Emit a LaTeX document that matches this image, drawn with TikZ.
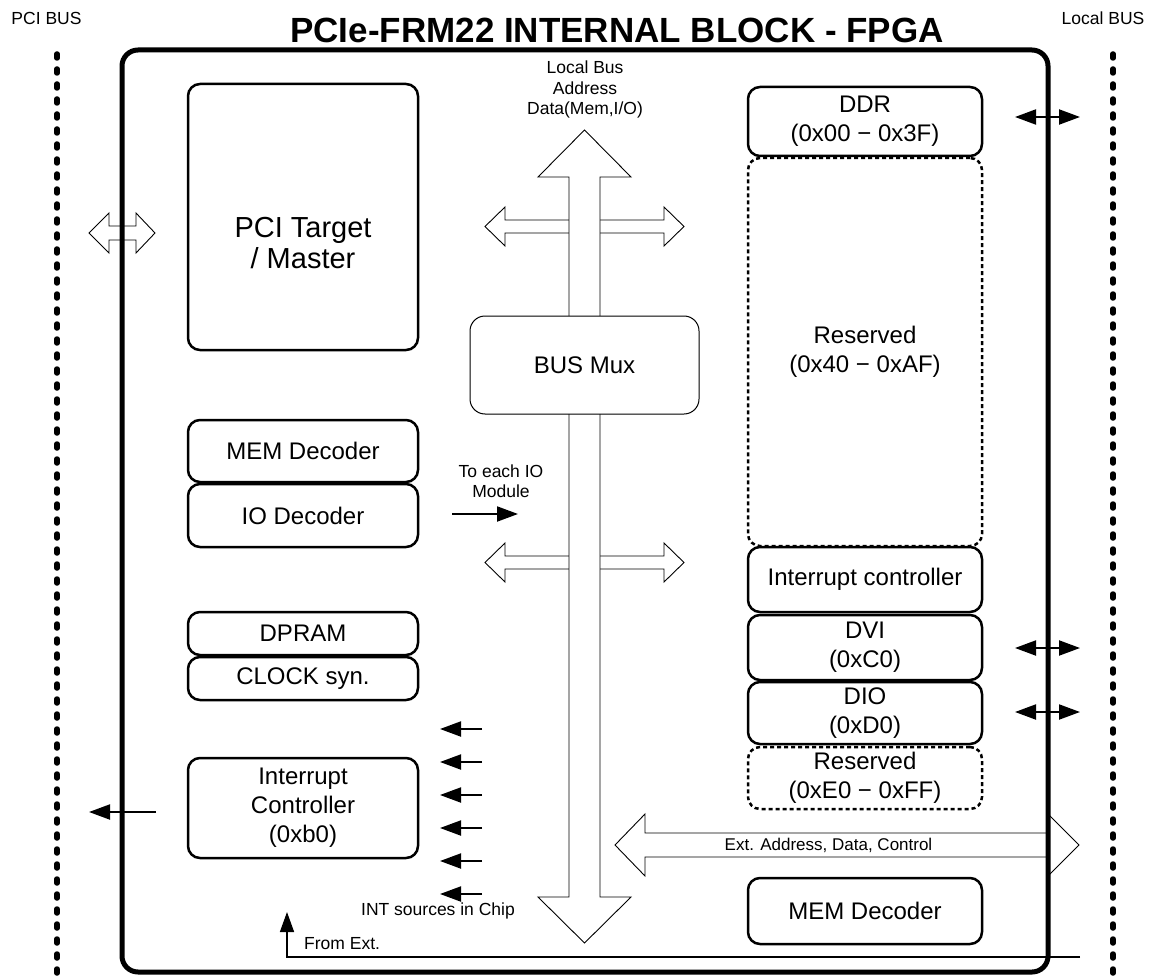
\documentclass[tikz,border=0pt]{standalone}
\usepackage{fontspec}
\setmainfont{Liberation Sans}
\usetikzlibrary{arrows.meta}
\newcommand\myfs[2]{\fontsize{#1}{#2}\selectfont}
\tikzset{
 blk/.style={draw, line width=2.5pt, rounded corners=12pt, fill=white, align=center, inner sep=0pt, minimum width=230pt, font=\myfs{24}{29}},
 rblk/.style={blk, minimum width=234pt},
 dashedblk/.style={dash pattern=on 4pt off 3pt},
 fat/.style={draw, line width=0.9pt, fill=white, line join=miter},
 dotline/.style={line width=5.5pt, line cap=round, dash pattern=on 4pt off 11pt},
 sarr/.style={line width=2pt, -{Triangle[length=21pt,width=15pt]}},
 darr/.style={line width=2pt, {Triangle[length=21pt,width=15pt]}-{Triangle[length=21pt,width=15pt]}},
 lbl/.style={font=\myfs{17.5}{20.5}, align=center, inner sep=0pt},
}
\begin{document}
\begin{tikzpicture}[x=1pt,y=-1pt]
\useasboundingbox (0,0) rectangle (1158,976);
% bus lines
\coordinate (pcitop) at (57,54); \coordinate (pcibot) at (57,976);
\coordinate (lbtop) at (1113,54); \coordinate (lbbot) at (1113,976);
\draw[dotline] (pcitop) -- (pcibot);
\draw[dotline] (lbtop) -- (lbbot);
% horizontal fat double arrows
\draw[fat] (485,226.5) -- (505,207) -- (505,220) -- (664,220) -- (664,207) -- (684,226.5) -- (664,246) -- (664,233) -- (505,233) -- (505,246) -- cycle;
\draw[fat] (485,562.5) -- (505,543) -- (505,556) -- (664,556) -- (664,543) -- (684,562.5) -- (664,582) -- (664,569) -- (505,569) -- (505,582) -- cycle;
% vertical fat double arrow
\draw[fat] (569,177) -- (538,177) -- (584.5,130) -- (631,177) -- (600,177) -- (600,897) -- (631,897) -- (584.5,943) -- (538,897) -- (569,897) -- cycle;
% PCI fat arrow
\draw[fat] (89,233) -- (109,213) -- (109,226) -- (136,226) -- (136,213) -- (155,233) -- (136,253) -- (136,240) -- (109,240) -- (109,253) -- cycle;
% Ext fat arrow
\draw[fat] (615,845) -- (645,814) -- (645,833) -- (1048,833) -- (1048,814) -- (1079,845) -- (1048,876) -- (1048,857) -- (645,857) -- (645,876) -- cycle;
\node[lbl, font=\myfs{17}{20}] (extlbl) at (828.5,845) {Ext. Address, Data, Control};
% BUS Mux
\node[draw, line width=1pt, rounded corners=15pt, fill=white, minimum width=229pt, minimum height=98pt, inner sep=0pt, font=\myfs{24}{29}] (mux) at (584.5,365) {BUS Mux};
% left boxes
\node[blk, minimum height=266pt] (pci) at (303,217) {};
\node[align=center, inner sep=0pt, font=\myfs{29}{30.5}] (pcitxt) at (303,243) {PCI Target\\/ Master};
\node[blk, minimum height=62pt] (memdec) at (303,451) {MEM Decoder};
\node[blk, minimum height=63pt] (iodec) at (303,515.5) {IO Decoder};
\node[blk, minimum height=43pt] (dpram) at (303,633.5) {DPRAM};
\node[blk, minimum height=43pt] (clk) at (303,678.5) {CLOCK syn.};
\node[blk, minimum height=100pt] (intc) at (303,808) {Interrupt\\Controller\\(0xb0)};
% right boxes
\node[rblk, minimum height=69pt] (ddr) at (865,121.5) {DDR\\(0x00 − 0x3F)};
\node[rblk, dashedblk, minimum height=388pt] (res1) at (865,352) {Reserved\\(0x40 − 0xAF)};
\node[rblk, minimum height=65pt] (intr) at (865,579.5) {Interrupt controller};
\node[rblk, minimum height=65pt] (dvi) at (865,647.5) {DVI\\(0xC0)};
\node[rblk, minimum height=62pt] (dio) at (865,713) {DIO\\(0xD0)};
\node[rblk, dashedblk, minimum height=62pt] (res2) at (865,778) {Reserved\\(0xE0 − 0xFF)};
\node[rblk, minimum height=66pt] (memdec2) at (865,911) {MEM Decoder};
% outer chip border
\node[draw, line width=5pt, rounded corners=16pt, minimum width=926pt, minimum height=922pt, inner sep=0pt] (chip) at (585,511) {};
% small arrows
\foreach \yy [count=\i] in {729,762,795,828,861,894} {
  \coordinate (is\i) at (482,\yy);
  \coordinate (it\i) at (440,\yy);
  \draw[sarr] (is\i) -- (it\i);
}
\coordinate (intsrc) at (156,812);
\coordinate (intout) at (89,812);
\draw[sarr] (intsrc) -- (intout);
\coordinate (ioa) at (452,514); \coordinate (iob) at (518,514);
\draw[sarr] (ioa) -- (iob);
\coordinate (ddra) at (1015,117); \coordinate (ddrb) at (1080,117);
\draw[darr] (ddra) -- (ddrb);
\coordinate (dvia) at (1015,648); \coordinate (dvib) at (1080,648);
\draw[darr] (dvia) -- (dvib);
\coordinate (dioa) at (1015,712); \coordinate (diob) at (1080,712);
\draw[darr] (dioa) -- (diob);
\coordinate (fe1) at (1080,957); \coordinate (fe2) at (287,957); \coordinate (fe3) at (287,912);
\draw[line width=1.5pt, -{Triangle[length=20pt,width=14pt]}] (fe1) -- (fe2) -- (fe3);
% labels
\node[lbl] (pcibus) at (46.5,18) {PCI BUS};
\node[lbl] (localbus) at (1103,18) {Local BUS};
\node[font=\bfseries\myfs{35}{40}, inner sep=0pt] (title) at (617,30) {PCIe-FRM22 INTERNAL BLOCK - FPGA};
\node[lbl] (lbus) at (585,89.5) {Local Bus\\Address\\Data(Mem,I/O)};
\node[lbl] (toio) at (501,481) {To each IO\\Module};
\node[lbl] (ints) at (438,911) {INT sources in Chip};
\node[lbl, anchor=west] (fromext) at (304,944) {From Ext.};
\end{tikzpicture}
\end{document}
